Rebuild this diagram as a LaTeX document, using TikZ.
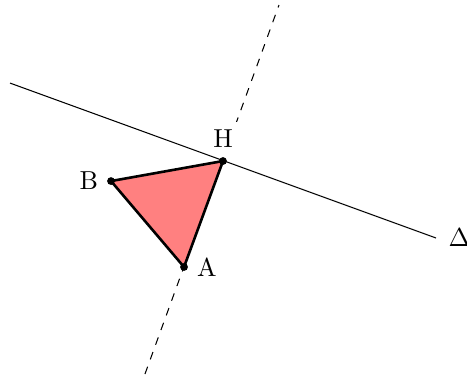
\documentclass[tikz,border=0pt]{standalone}
\usetikzlibrary{positioning}
\definecolor{cfill}{HTML}{FF8080}
\tikzset{
  every picture/.style={line width=0.4pt},
  vertex/.style={circle, fill=black, inner sep=0pt, minimum size=3pt},
  lbl/.style={fill=white},
  tri/.style={draw=black, fill=cfill, line width=1pt, line join=round},
  guide/.style={dashed, line width=0.4pt},
}
\begin{document}
\begin{tikzpicture}
  \useasboundingbox (0,0) rectangle (6.314,5.111);
  % the line Delta and the dashed perpendicular through A
  \coordinate (D1) at (0.135,3.988);
  \coordinate (D2) at (5.895,1.893);
  \coordinate (L1) at (3.772,5.043);
  \coordinate (L2) at (1.960,0.054);
  \coordinate (A) at (2.488,1.501);
  \coordinate (B) at (1.501,2.663);
  \coordinate (H) at (3.015,2.934);
  \draw[guide] (L2) -- (L1);
  % labels
  \node[lbl, right=1.5pt of A] (la) {A};
  \node[lbl, left=1.5pt of B] (lb) {B};
  \node[lbl, above=1.5pt of H] (lh) {H};
  \draw (D1) -- (D2) node[right=1.3pt+3.33pt, inner sep=0pt] (delta) {$\Delta$};
  \filldraw[tri] (A) -- (B) -- (H) -- cycle;
  % points
  \node[vertex] (a) at (A) {};
  \node[vertex] (b) at (B) {};
  \node[vertex] (h) at (H) {};
\end{tikzpicture}
\end{document}
